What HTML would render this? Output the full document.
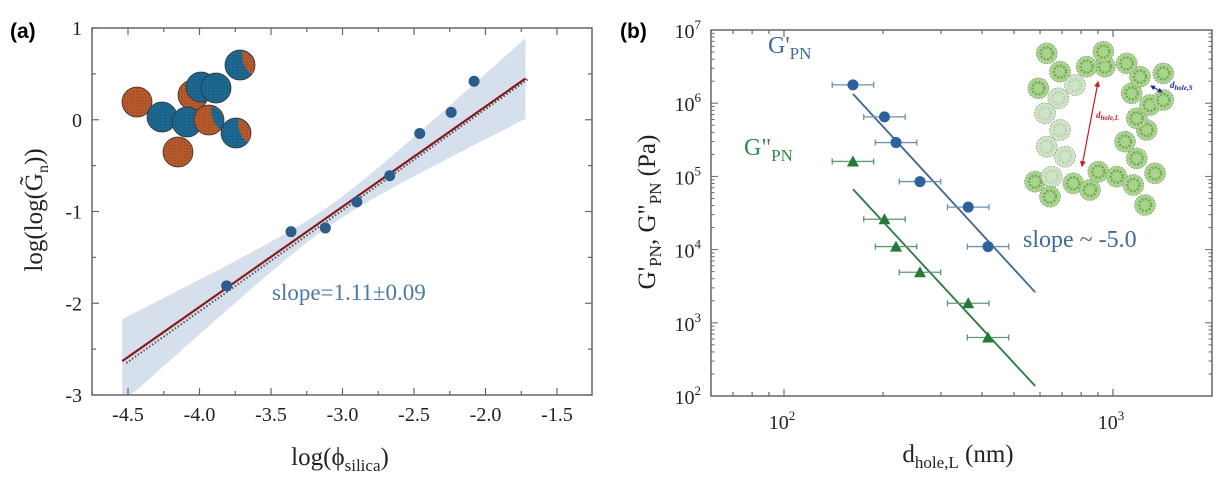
<!DOCTYPE html>
<html><head><meta charset="utf-8"><style>
html,body{margin:0;padding:0;background:#fff;}
svg{display:block;font-family:"Liberation Serif",serif;}
</style></head><body>
<svg id="fig" width="1227" height="481" viewBox="0 0 1227 481" xmlns="http://www.w3.org/2000/svg">
<defs>
<pattern id="dots" width="3" height="3" patternUnits="userSpaceOnUse"><rect width="3" height="3" fill="none"/><circle cx="1.5" cy="1.5" r="0.5" fill="#000" opacity="0.25"/></pattern>
<marker id="ah" viewBox="0 0 10 10" refX="8" refY="5" markerWidth="5" markerHeight="5" orient="auto-start-reverse"><path d="M0,0L10,5L0,10z" fill="#c81e1e"/></marker>
<marker id="ahb" viewBox="0 0 10 10" refX="8" refY="5" markerWidth="5" markerHeight="5" orient="auto-start-reverse"><path d="M0,0L10,5L0,10z" fill="#1e2aa0"/></marker>
</defs>
<g id="pa"></g>
<g id="pb"></g>
</svg>
<script>
// ---- Panel (a) data ----
const aX = [-3.81, -3.36, -3.12, -2.90, -2.67, -2.46, -2.24, -2.08];
const aY = [-1.81, -1.22, -1.18, -0.895, -0.61, -0.15, 0.08, 0.42];
const aFitX = [-4.54, -1.72];
const aFitY = [-2.63, 0.45];
const aXTicks = [-4.5, -4.0, -3.5, -3.0, -2.5, -2.0, -1.5];
const aXTickLabels = ["-4.5", "-4.0", "-3.5", "-3.0", "-2.5", "-2.0", "-1.5"];
const aYTicks = [1, 0, -1, -2, -3];
const aYTickLabels = ["1", "0", "-1", "-2", "-3"];
// ---- Panel (b) data ----
const bD = [162, 202, 219, 259, 363, 417];
const bGp = [1.78e6, 6.5e5, 2.9e5, 8.5e4, 3.8e4, 1.1e4];
const bGpp = [1.6e5, 2.6e4, 1.1e4, 4.9e3, 1.85e3, 630];
const bErrLog = [0.063, 0.063, 0.063, 0.063, 0.063, 0.063];
const bFitD = [162, 580];
const bFitGp = [1.34e6, 2.62e3];
const bFitGpp = [6.7e4, 137];
const bYTicks = [2, 3, 4, 5, 6, 7];
const bXTicks = [2, 3];

const NS = "http://www.w3.org/2000/svg";
function mk(parent, tag, attrs, text) {
  const e = document.createElementNS(NS, tag);
  for (const k in attrs) e.setAttribute(k, attrs[k]);
  if (text !== undefined) e.textContent = text;
  parent.appendChild(e);
  return e;
}
// ===== Panel A =====
const A = document.getElementById('pa');
const aL = 92, aR = 592, aT = 28, aB = 395;
const ax = v => 128 + (v + 4.5) * 143;
const ay = v => aT + (1 - v) * 91.75;
(function(){
  const slope = (aFitY[1]-aFitY[0])/(aFitX[1]-aFitX[0]);
  const f = x => aFitY[0] + slope*(x-aFitX[0]);
  const h = x => Math.sqrt(0.012 + 0.095*(x+3.1)*(x+3.1));
  let up = [], lo = [];
  for (let i=0;i<=60;i++){
    const x = aFitX[0] + (aFitX[1]-aFitX[0])*i/60;
    up.push(ax(x)+','+ay(f(x)+h(x)));
    lo.push(ax(x)+','+Math.min(aB, ay(f(x)-h(x))));
  }
  const p = mk(A,'polygon',{points: up.concat(lo.reverse()).join(' '), fill:'#d6dfec'});
  
  
})();
const fa = mk(A,'rect',{x:aL,y:aT,width:aR-aL,height:aB-aT,fill:'none',stroke:'#666','stroke-width':1.5});


for (let v=-4.75; v<=-1.5; v+=0.25){
  const major = Math.abs(v*2-Math.round(v*2))<1e-6;
  const len = major?7:4;
  mk(A,'line',{x1:ax(v),x2:ax(v),y1:aB,y2:aB-len,stroke:'#666','stroke-width':1.2});
  mk(A,'line',{x1:ax(v),x2:ax(v),y1:aT,y2:aT+len,stroke:'#666','stroke-width':1.2});
}
for (let v=-3; v<=1; v+=0.5){
  const len = Number.isInteger(v)?7:4;
  mk(A,'line',{x1:aL,x2:aL+len,y1:ay(v),y2:ay(v),stroke:'#666','stroke-width':1.2});
  mk(A,'line',{x1:aR,x2:aR-len,y1:ay(v),y2:ay(v),stroke:'#666','stroke-width':1.2});
}
aXTicks.forEach((v,i)=>{
  const t = mk(A,'text',{x:ax(v),y:aB+26,'text-anchor':'middle','font-size':20,fill:'#222'},aXTickLabels[i]);
  
  
});
aYTicks.forEach((v,i)=>{
  const t = mk(A,'text',{x:aL-10,y:ay(v)+7,'text-anchor':'end','font-size':20,fill:'#222'},aYTickLabels[i]);
  
  
});
const fd = mk(A,'line',{x1:ax(aFitX[0])+4,y1:ay(aFitY[0])+2,x2:ax(aFitX[1])+2,y2:ay(aFitY[1])+1,stroke:'#555','stroke-width':2,'stroke-dasharray':'1.5 2'});


const fl = mk(A,'line',{x1:ax(aFitX[0]),y1:ay(aFitY[0]),x2:ax(aFitX[1]),y2:ay(aFitY[1]),stroke:'#8b1a1a','stroke-width':2.2});


aX.forEach((x,i)=>{
  const c = mk(A,'circle',{cx:ax(x),cy:ay(aY[i]),r:5.5,fill:'#2a5d8c'});
  
  
});
const sph = [[137,102,'o'],[240,65,'bo'],[162,117,'b'],[178,152,'o'],[193,95,'ob'],[201,87,'b'],[216,88,'b'],[187,122,'b'],[209,120,'ob'],[236,133,'bo']];
const gS = mk(A,'g',{});


sph.forEach(s=>{
  const col = s[2][0]==='o' ? '#b5582b' : '#1d6890';
  mk(gS,'ellipse',{cx:s[0],cy:s[1],rx:15,ry:15,fill:col,stroke:'#333','stroke-width':0.8});
  if (s[2].length>1){
    const c2 = s[2][1]==='o' ? '#b5582b' : '#1d6890';
    mk(gS,'path',{d:`M${s[0]+2},${s[1]-14} A15,15 0 0 1 ${s[0]+12},${s[1]+9} Q${s[0]+2},${s[1]+4} ${s[0]+2},${s[1]-14}z`,fill:c2});
  }
  mk(gS,'ellipse',{cx:s[0],cy:s[1],rx:15,ry:15,fill:'url(#dots)'});
});
const sl = mk(A,'text',{x:272,y:300,'font-size':23,fill:'#4d77a6'},'slope=1.11±0.09');


const xta = mk(A,'text',{x:340,y:465,'text-anchor':'middle','font-size':25,fill:'#222'});


xta.innerHTML = `log(ϕ<tspan font-size="17" dy="6">silica</tspan><tspan dy="-6">)</tspan>`;
const yta = mk(A,'text',{transform:'translate(42,210) rotate(-90)','text-anchor':'middle','font-size':25,fill:'#222'});


yta.innerHTML = `log(log(G̃<tspan font-size="16" dy="6">n</tspan><tspan dy="-6">))</tspan>`;
const la = mk(A,'text',{x:10,y:38,'font-size':21,'font-weight':'bold','font-family':'Liberation Sans, sans-serif',fill:'#000'},'(a)');



// ===== Panel B =====
const B = document.getElementById('pb');
const bL = 711, bR = 1212, bT = 30, bB = 396;
const bx = d => 784 + (Math.log10(d) - 2) * 329;
const by = g => bT + (7 - Math.log10(g)) * 73.2;
const fb = mk(B,'rect',{x:bL,y:bT,width:bR-bL,height:bB-bT,fill:'none',stroke:'#666','stroke-width':1.5});


const circ = [[110,70],[150,125],[85,175],[195,165],[145,205],[105,250],[150,300],[110,350],[165,380],[75,455],[125,440],[120,500],[190,460],[240,480],[265,425],[320,440],[370,465],[405,525],[435,430],[380,385],[345,335],[410,300],[380,265],[420,225],[365,190],[460,210],[390,140],[460,130],[350,100],[285,110],[230,110],[280,65]];
const gN = mk(B,'g',{});


circ.forEach((c,i)=>{
  const pale = [3,4,5,6,7,8,10].includes(i);
  mk(gN,'circle',{cx:1010+c[0]/3,cy:30+c[1]/3,r:10.5,fill:pale?'#cfe3c6':'#a9d38f',stroke:'#777','stroke-width':0.6,'stroke-dasharray':'1.5 1.5'});
  mk(gN,'circle',{cx:1010+c[0]/3,cy:30+c[1]/3,r:6,fill:'none',stroke:pale?'#b5d4aa':'#6fae4c','stroke-width':2.5,'stroke-dasharray':'2 1.5'});
});
mk(gN,'line',{x1:1098,y1:82,x2:1082,y2:166,stroke:'#c81e1e','stroke-width':1.2,'marker-start':'url(#ah)','marker-end':'url(#ah)'});
const dl = mk(gN,'text',{x:1096,y:118,'font-size':9,'font-style':'italic','font-weight':'bold',fill:'#c81e1e'});
dl.innerHTML = `d<tspan font-size="7" dy="2">hole,L</tspan>`;
mk(gN,'line',{x1:1151,y1:86,x2:1162,y2:92,stroke:'#1e2aa0','stroke-width':1,'marker-start':'url(#ahb)','marker-end':'url(#ahb)'});
const ds = mk(gN,'text',{x:1170,y:88,'font-size':9,'font-style':'italic','font-weight':'bold',fill:'#1e2aa0'});
ds.innerHTML = `d<tspan font-size="7" dy="2">hole,S</tspan>`;
for (let dec=1; dec<=3; dec++){
  for (let m=1; m<10; m++){
    const d = m*Math.pow(10,dec); const X = bx(d);
    if (X<bL||X>bR) continue;
    const len = m===1?7:4;
    mk(B,'line',{x1:X,x2:X,y1:bB,y2:bB-len,stroke:'#666','stroke-width':1.2});
    mk(B,'line',{x1:X,x2:X,y1:bT,y2:bT+len,stroke:'#666','stroke-width':1.2});
  }
}
for (let dec=2; dec<7; dec++){
  for (let m=1; m<10; m++){
    const Y = by(m*Math.pow(10,dec)); const len = m===1?7:3.5;
    mk(B,'line',{x1:bL,x2:bL+len,y1:Y,y2:Y,stroke:'#666','stroke-width':1});
    mk(B,'line',{x1:bR,x2:bR-len,y1:Y,y2:Y,stroke:'#666','stroke-width':1});
  }
}
bYTicks.forEach(e=>{
  const t = mk(B,'text',{x:bL-10,y:by(Math.pow(10,e))+8,'text-anchor':'end','font-size':20,fill:'#222'});
  t.innerHTML = `10<tspan font-size="13" dy="-9">${e}</tspan>`;
  
  
});
bXTicks.forEach(e=>{
  const t = mk(B,'text',{x:bx(Math.pow(10,e))-2,y:bB+33,'text-anchor':'middle','font-size':20,fill:'#222'});
  t.innerHTML = `10<tspan font-size="13" dy="-9">${e}</tspan>`;
  
  
});
const l1 = mk(B,'line',{x1:bx(bFitD[0]),y1:by(bFitGp[0]),x2:bx(bFitD[1]),y2:by(bFitGp[1]),stroke:'#3e6593','stroke-width':1.8});


const l2 = mk(B,'line',{x1:bx(bFitD[0]),y1:by(bFitGpp[0]),x2:bx(bFitD[1]),y2:by(bFitGpp[1]),stroke:'#2b7a3e','stroke-width':1.8});


function errbar(d, g, e, col){
  const x1 = bx(d/Math.pow(10,e)), x2 = bx(d*Math.pow(10,e)), y = by(g);
  mk(B,'line',{x1:x1,x2:x2,y1:y,y2:y,stroke:col,'stroke-width':1.3});
  mk(B,'line',{x1:x1,x2:x1,y1:y-3,y2:y+3,stroke:col,'stroke-width':1.3});
  mk(B,'line',{x1:x2,x2:x2,y1:y-3,y2:y+3,stroke:col,'stroke-width':1.3});
}
bD.forEach((d,i)=>{
  errbar(d,bGp[i],bErrLog[i],'#6d8fb3');
  const c = mk(B,'circle',{cx:bx(d),cy:by(bGp[i]),r:5.5,fill:'#2c62a0'});
  
  
  errbar(d,bGpp[i],bErrLog[i],'#5e9a6a');
  const X=bx(d), Y=by(bGpp[i]);
  const t = mk(B,'polygon',{points:`${X},${Y-6} ${X-6},${Y+5} ${X+6},${Y+5}`,fill:'#237a3a'});
  
  
});
const g1 = mk(B,'text',{x:768,y:53,'font-size':24,fill:'#3f6b9c'});
g1.innerHTML = `G'<tspan font-size="17" dy="6">PN</tspan>`;


const g2 = mk(B,'text',{x:744,y:155,'font-size':24,fill:'#2f8a45'});
g2.innerHTML = `G"<tspan font-size="17" dy="6">PN</tspan>`;


const s2 = mk(B,'text',{x:1023,y:247,'font-size':24,fill:'#3f6b9c'},'slope ~ -5.0');


const xtb = mk(B,'text',{x:958,y:462,'text-anchor':'middle','font-size':25,fill:'#222'});
xtb.innerHTML = `d<tspan font-size="17" dy="6">hole,L</tspan><tspan dy="-6"> (nm)</tspan>`;


const ytb = mk(B,'text',{transform:'translate(655,212) rotate(-90)','text-anchor':'middle','font-size':25,fill:'#222'});
ytb.innerHTML = `G'<tspan font-size="17" dy="6">PN</tspan><tspan dy="-6">, G"</tspan><tspan font-size="17" dy="6">PN</tspan><tspan dy="-6"> (Pa)</tspan>`;


const lb = mk(B,'text',{x:620,y:38,'font-size':21,'font-weight':'bold','font-family':'Liberation Sans, sans-serif',fill:'#000'},'(b)');


</script>
</body></html>
